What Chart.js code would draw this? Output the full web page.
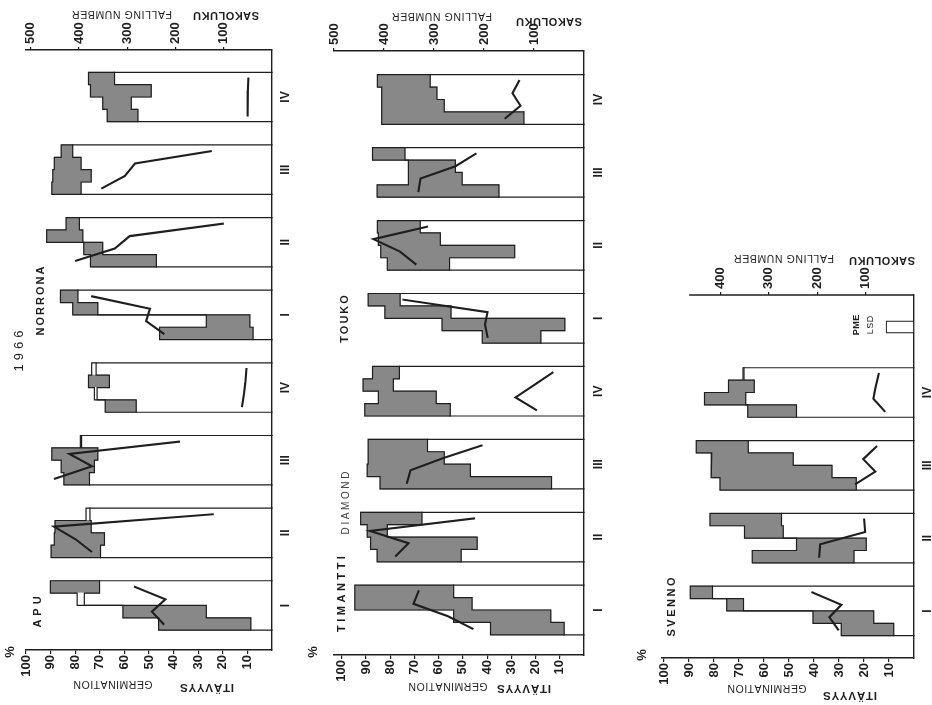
<!DOCTYPE html>
<html><head><meta charset="utf-8">
<script src="https://cdn.jsdelivr.net/npm/chart.js@4"></script>
<style>
html,body{margin:0;padding:0;background:#fff;}
body{width:932px;height:705px;position:relative;overflow:hidden;}
canvas{position:absolute;}
</style></head><body>
<canvas id="p1" width="300" height="705" style="left:0;top:0;width:300px;height:705px"></canvas>
<canvas id="p2" width="322" height="705" style="left:290px;top:0;width:322px;height:705px"></canvas>
<canvas id="p3" width="332" height="475" style="left:600px;top:230px;width:332px;height:475px"></canvas>
<script>
// ---------- DATA ----------
const sites = ['I', 'II', 'III', 'IV'];
const germTicks = [100, 90, 80, 70, 60, 50, 40, 30, 20, 10];
const fnTicks = [500, 400, 300, 200, 100];
const fnTicksSvenno = [400, 300, 200, 100];

// germination %, 4 harvest rows per site (I..IV); reading 1 and reading 2
// shaded where reading 1 > reading 2, open box otherwise
const norronaGerm1 = [[86.0, 81.0, 26.7, 45.7], [83.7, 91.6, 76.5, 73.8], [85.7, 88.5, 89.1, 89.5], [74.6, 73.8, 68.8, 67.0]];
const norronaGerm2 = [[78.9, 70.8, 9.0, 7.7], [78.3, 76.9, 68.8, 47.0], [81.0, 77.6, 73.5, 77.6], [64.0, 49.1, 57.2, 54.5]];
const norronaFN = [[373, 253, 261, 225], [102, 295, 326, 406], [127, 284, 305, 352], [49, 50, 50, 51]];

const apuGerm1 = [[90.1, 76.3, 60.6, 46.1], [74.0, 88.2, 88.5, 89.8], [77.4, 89.5, 85.7, 84.6], [71.5, 74.6, 71.1, 67.8]];
const apuGerm2 = [[70.1, 79.2, 26.7, 8.6], [75.6, 73.5, 68.1, 69.7], [77.9, 70.8, 72.2, 74.2], [73.3, 66.1, 72.2, 55.2]];
const apuFN = [[284, 221, 249, 225], [123, 452, 408, 375], [193, 420, 373, 450], [53, 55, 58, 62]];

const toukoGerm1 = [[89.1, 82.2, 58.6, 42.0], [85.3, 84.9, 83.9, 81.2], [87.3, 72.5, 72.5, 85.4], [85.3, 83.5, 83.5, 83.5]];
const toukoGerm2 = [[75.9, 54.9, 7.9, 17.8], [67.6, 59.3, 28.6, 55.5], [73.9, 53.1, 50.3, 35.1], [63.5, 60.7, 57.7, 24.8]];
const toukoFN = [[361, 193, 198, 193], [314, 421, 368, 337], [217, 257, 327, 331], [130, 143, 127, 157]];

const timanttiGerm1 = [[94.6, 94.6, 53.8, 38.6], [92.2, 89.5, 88.1, 85.4], [89.1, 89.1, 89.5, 84.2], [87.3, 91.2, 84.9, 90.5]];
const timanttiGerm2 = [[53.8, 46.2, 13.7, 8.2], [66.9, 81.2, 44.1, 50.7], [64.6, 57.7, 46.9, 13.4], [76.2, 78.7, 61.0, 55.2]];
const timanttiFN = [[331, 341, 272, 223], [220, 428, 351, 376], [205, 281, 347, 354], [63, 100, 137, 96]];

const svennoGerm1 = [[89.5, 74.9, 40.4, 29.1], [81.6, 67.8, 47.0, 64.7], [87.1, 80.9, 81.2, 77.6], [68.0, 74.2, 83.8, 66.5]];
const svennoGerm2 = [[80.6, 68.2, 16.1, 8.1], [53.0, 52.3, 19.1, 24.0], [66.3, 48.3, 32.8, 23.1], [68.4, 63.9, 67.3, 47.0]];
const svennoFN = [[210, 150, 175, 157], [103, 101, 194, 196], [78, 105, 80, 120], [73, 79, 84, 61]];
const lsdGerm = 11.2;
const svennoFnAxisStart = 465;

// ---------- STYLE / LAYOUT ----------
const FONT = "'Liberation Sans', Arial, sans-serif";
const INK = '#1e1e1e';
const SHADE = '#888888';
const ROW = 0.17;          // row thickness in site units
const LSD_SLOT = -0.9;     // slot above site IV in the SVENNO panel

function rowPos(k, r) { return k + (r - 1.5) * ROW; }

function lineDs(points, axis, width, order) {
  return {
    type: 'line', xAxisID: axis, yAxisID: 'y', data: points,
    borderColor: INK, borderWidth: width, pointRadius: 0, fill: false, tension: 0,
    clip: false, order: order, borderJoinStyle: 'miter', borderCapStyle: 'square'
  };
}

function buildDatasets(varieties, rowPx, lsd) {
  const bars = [];
  const ds = [];
  varieties.forEach((v, vi) => {
    v.g1.forEach((rowsA, s) => {
      const k = vi * 4 + (3 - s);
      const rowsB = v.g2[s];
      rowsA.forEach((a, r) => bars.push({y: rowPos(k, r), x: [a, rowsB[r]]}));
      const L = rowsA.map((a, r) => Math.max(a, rowsB[r]));
      const R = rowsA.map((a, r) => Math.min(a, rowsB[r]));
      const edges = [0, 1, 2, 3, 4].map(i => k + (i - 2) * ROW);
      const left = [{x: 0, y: edges[0]}];
      L.forEach((l, r) => { left.push({x: l, y: edges[r]}); left.push({x: l, y: edges[r + 1]}); });
      left.push({x: 0, y: edges[4]});
      ds.push(lineDs(left, 'x', 1.2, 1));
      const right = [];
      R.forEach((rr, r) => { right.push({x: rr, y: edges[r]}); right.push({x: rr, y: edges[r + 1]}); });
      ds.push(lineDs(right, 'x', 1.2, 1));
      ds.push(lineDs(v.fn[s].map((f, r) => ({x: f, y: rowPos(k, r)})), 'x2', 2.1, 0));
    });
  });
  const barBase = {
    type: 'bar', xAxisID: 'x', yAxisID: 'y', indexAxis: 'y',
    grouped: false, barThickness: rowPx + 0.4, borderSkipped: false
  };
  ds.unshift(Object.assign({}, barBase, {
    data: bars, borderWidth: 0, inflateAmount: 0.3, order: 3,
    backgroundColor: c => (c.raw && c.raw.x[0] < c.raw.x[1]) ? '#ffffff' : SHADE
  }));
  if (lsd) {
    ds.unshift(Object.assign({}, barBase, {
      data: lsd, borderWidth: 1.2, borderColor: INK, backgroundColor: '#ffffff', order: 2,
      barThickness: rowPx
    }));
  }
  return ds;
}

function drawText(ctx, txt, x, y, ang, font, spacing, color) {
  ctx.save();
  ctx.translate(x, y);
  ctx.rotate(ang);
  ctx.font = font;
  ctx.fillStyle = color || INK;
  ctx.textBaseline = 'middle';
  const chars = [...txt];
  const sp = spacing || 0;
  const widths = chars.map(c => ctx.measureText(c).width);
  const total = widths.reduce((a, b) => a + b, 0) + sp * (chars.length - 1);
  let cx = -total / 2;
  ctx.textAlign = 'left';
  chars.forEach((c, i) => { ctx.fillText(c, cx, 0); cx += widths[i] + sp; });
  ctx.restore();
}
const UP = -Math.PI / 2, FLIP = Math.PI;

function makePanel(id, cfg) {
  const canvas = document.getElementById(id);
  const nGroups = cfg.varieties.length * 4;
  const tickPos = Array.from({length: nGroups}, (_, k) => k);
  const tickTxt = tickPos.map(k => sites[3 - (k % 4)]);
  const tickFont = {family: FONT, size: 13, weight: 'bold'};
  const plotH = canvas.height - cfg.topH - cfg.bottomH;
  const rowPx = plotH / (cfg.yMax - cfg.yMin) * ROW;
  return new Chart(canvas, {
    type: 'bar',
    data: {datasets: buildDatasets(cfg.varieties, rowPx, cfg.lsd)},
    options: {
      indexAxis: 'y',
      responsive: false,
      animation: false,
      events: [],
      layout: {padding: {left: cfg.padLeft, top: 0, right: 0, bottom: 0}},
      plugins: {legend: {display: false}, tooltip: {enabled: false}},
      scales: {
        x: {
          type: 'linear', position: 'bottom', reverse: true, min: 0, max: cfg.gMax, offset: false,
          afterBuildTicks: s => { s.ticks = germTicks.map(v => ({value: v})); },
          afterFit: s => { s.height = cfg.bottomH; },
          ticks: {autoSkip: false, minRotation: 90, maxRotation: 90, padding: 1, color: INK, font: tickFont},
          grid: {display: true, drawOnChartArea: false, drawTicks: true, tickLength: 4, color: INK, lineWidth: 1.2},
          border: {display: true, color: INK, width: 1.4}
        },
        x2: {
          type: 'linear', position: 'top', reverse: true, min: 0, max: cfg.fnMax, offset: false,
          afterBuildTicks: s => { s.ticks = cfg.fnTicks.map(v => ({value: v})); },
          afterFit: s => { s.height = cfg.topH; },
          ticks: {autoSkip: false, minRotation: 90, maxRotation: 90, padding: 3, labelOffset: 15.6, color: INK, font: tickFont},
          grid: {display: true, drawOnChartArea: false, drawTicks: true, tickLength: 3, color: INK, lineWidth: 1.2},
          border: {display: cfg.topBorder !== false, color: INK, width: 1.4}
        },
        y: {
          type: 'linear', position: 'right', reverse: true, min: cfg.yMin, max: cfg.yMax, offset: false,
          afterBuildTicks: s => { s.ticks = tickPos.map(v => ({value: v})); },
          afterFit: s => { s.width = cfg.rightW; },
          ticks: {
            autoSkip: false, minRotation: 90, maxRotation: 90, crossAlign: 'center', padding: cfg.yPad,
            color: INK, font: {family: FONT, size: 12, weight: 'bold'},
            callback: (v, i) => tickTxt[i]
          },
          grid: {display: false},
          border: {display: true, color: INK, width: 1.4}
        }
      }
    },
    plugins: [{id: 'labels', afterDraw(chart) { cfg.texts(chart.ctx, chart); }}]
  });
}

const B11 = `bold 11px ${FONT}`;
const R10 = `10.5px ${FONT}`;

makePanel('p1', {
  varieties: [
    {g1: norronaGerm1, g2: norronaGerm2, fn: norronaFN},
    {g1: apuGerm1, g2: apuGerm2, fn: apuFN}
  ],
  gMax: 100, fnMax: 510, fnTicks: fnTicks,
  yMin: -0.647, yMax: 7.613, padLeft: 26, topH: 50, bottomH: 55, rightW: 28, yPad: 0,
  texts(ctx) {
    drawText(ctx, 'SAKOLUKU', 226, 15, FLIP, B11, 0.5);
    drawText(ctx, 'FALLING NUMBER', 122, 14, FLIP, R10, 0.6);
    drawText(ctx, 'ITÄVYYS', 207, 687, FLIP, `bold 11.5px ${FONT}`, 0.8);
    drawText(ctx, 'GERMINATION', 113, 684, FLIP, R10, 0.5);
    drawText(ctx, '%', 10, 652, UP, `bold 13px ${FONT}`, 0);
    drawText(ctx, 'NORRONA', 41, 301, UP, B11, 2);
    drawText(ctx, '1966', 19, 351, UP, `13px ${FONT}`, 4);
    drawText(ctx, 'APU', 38, 612, UP, B11, 4);
  }
});

makePanel('p2', {
  varieties: [
    {g1: toukoGerm1, g2: toukoGerm2, fn: toukoFN},
    {g1: timanttiGerm1, g2: timanttiGerm2, fn: timanttiFN}
  ],
  gMax: 103.2, fnMax: 500, fnTicks: fnTicks,
  yMin: -0.665, yMax: 7.617, padLeft: 44, topH: 51, bottomH: 50, rightW: 28, yPad: 1,
  texts(ctx) {
    drawText(ctx, 'SAKOLUKU', 259, 21, FLIP, B11, 0.5);
    drawText(ctx, 'FALLING NUMBER', 152, 16, FLIP, R10, 0.6);
    drawText(ctx, 'ITÄVYYS', 234, 688, FLIP, `bold 11.5px ${FONT}`, 0.8);
    drawText(ctx, 'GERMINATION', 158, 686, FLIP, R10, 0.5);
    drawText(ctx, '%', 23, 652, UP, `bold 13px ${FONT}`, 0);
    drawText(ctx, 'TOUKO', 55, 319, UP, B11, 2);
    drawText(ctx, 'DIAMOND', 56, 503, UP, `10px ${FONT}`, 2.6, '#444');
    drawText(ctx, 'TIMANTTI', 52, 594, UP, B11, 3.5);
  }
});

makePanel('p3', {
  varieties: [
    {g1: svennoGerm1, g2: svennoGerm2, fn: svennoFN}
  ],
  lsd: [{y: LSD_SLOT, x: [0, lsdGerm]}],
  gMax: 100.8, fnMax: 521, fnTicks: fnTicksSvenno, topBorder: false,
  yMin: -1.339, yMax: 3.646, padLeft: 62, topH: 65, bottomH: 47, rightW: 18, yPad: 0,
  texts(ctx, chart) {
    const s = chart.scales.x2;
    ctx.save();
    ctx.strokeStyle = INK; ctx.lineWidth = 1.4;
    ctx.beginPath();
    ctx.moveTo(s.getPixelForValue(svennoFnAxisStart), s.bottom);
    ctx.lineTo(s.getPixelForValue(0), s.bottom);
    ctx.stroke();
    ctx.restore();
    drawText(ctx, 'SAKOLUKU', 282, 30, FLIP, B11, 0.5);
    drawText(ctx, 'FALLING NUMBER', 184, 28, FLIP, R10, 0.6);
    drawText(ctx, 'ITÄVYYS', 250, 465, FLIP, `bold 11.5px ${FONT}`, 0.8);
    drawText(ctx, 'GERMINATION', 167, 458, FLIP, R10, 0.5);
    drawText(ctx, '%', 42, 425, UP, `bold 13px ${FONT}`, 0);
    drawText(ctx, 'SVENNO', 72, 377, UP, B11, 2.5);
    drawText(ctx, 'PME', 257, 95, UP, `bold 9px ${FONT}`, 0.5);
    drawText(ctx, 'LSD', 271, 95, UP, `9px ${FONT}`, 0.5);
  }
});
</script>
</body></html>
